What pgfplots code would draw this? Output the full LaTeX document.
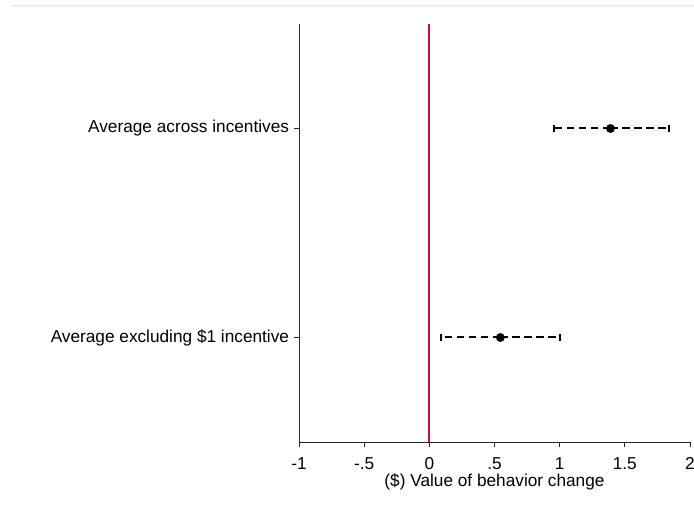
\documentclass[border=0pt]{standalone}
\usepackage{fontspec}
\setmainfont{Liberation Sans}
\usepackage{pgfplots}
\pgfplotsset{compat=1.18}
\definecolor{zeroline}{RGB}{200,16,50}
\definecolor{frameline}{RGB}{232,240,240}
\newcommand{\chartfont}{\fontsize{17.3}{20}\selectfont}
\begin{document}
\chartfont
\begin{tikzpicture}
\path[use as bounding box] (-299bp,-66bp) rectangle (395bp,442bp);
\draw[frameline, line width=1.2bp] (-287bp,436bp) -- (395bp,436bp);
\begin{axis}[
  at={(0,0)}, anchor=south west,
  scale only axis,
  width=391bp, height=418bp,
  xmin=-1, xmax=2, ymin=0.5, ymax=2.5,
  axis x line*=bottom, axis y line*=left,
  axis line style={-, line width=0.8bp, black!85},
  xtick={-1,-0.5,0,0.5,1,1.5,2},
  xticklabels={-1,-.5,0,.5,1,1.5,2},
  ytick={1,2},
  yticklabels={Average excluding \$1 incentive, Average across incentives},
  tick align=outside,
  major tick length=5bp,
  tick style={line width=0.8bp, black!85},
  /pgf/number format/assume math mode=true,
  xticklabel style={font=\chartfont, yshift=-5bp},
  yticklabel style={font=\chartfont, xshift=1bp},
  xlabel={(\$) Value of behavior change},
  xlabel style={font=\chartfont, at={(axis description cs:0.5,0)}, anchor=base, inner sep=0pt, yshift=-44bp},
  clip=false,
]
\addplot[zeroline, line width=2bp] coordinates {(0,0.5) (0,2.5)};
\addplot[black, only marks, mark=*, mark size=4.2bp,
  error bars/.cd, x dir=both, x explicit,
  error bar style={line width=2bp, dash pattern=on 7.5bp off 4.5bp},
  error mark options={solid, line width=2bp, mark size=3.8bp, rotate=90}]
  coordinates {
    (1.39,2) += (0.45,0) -= (0.43,0)
    (0.545,1) += (0.46,0) -= (0.455,0)
  };
\end{axis}
\end{tikzpicture}
\end{document}
